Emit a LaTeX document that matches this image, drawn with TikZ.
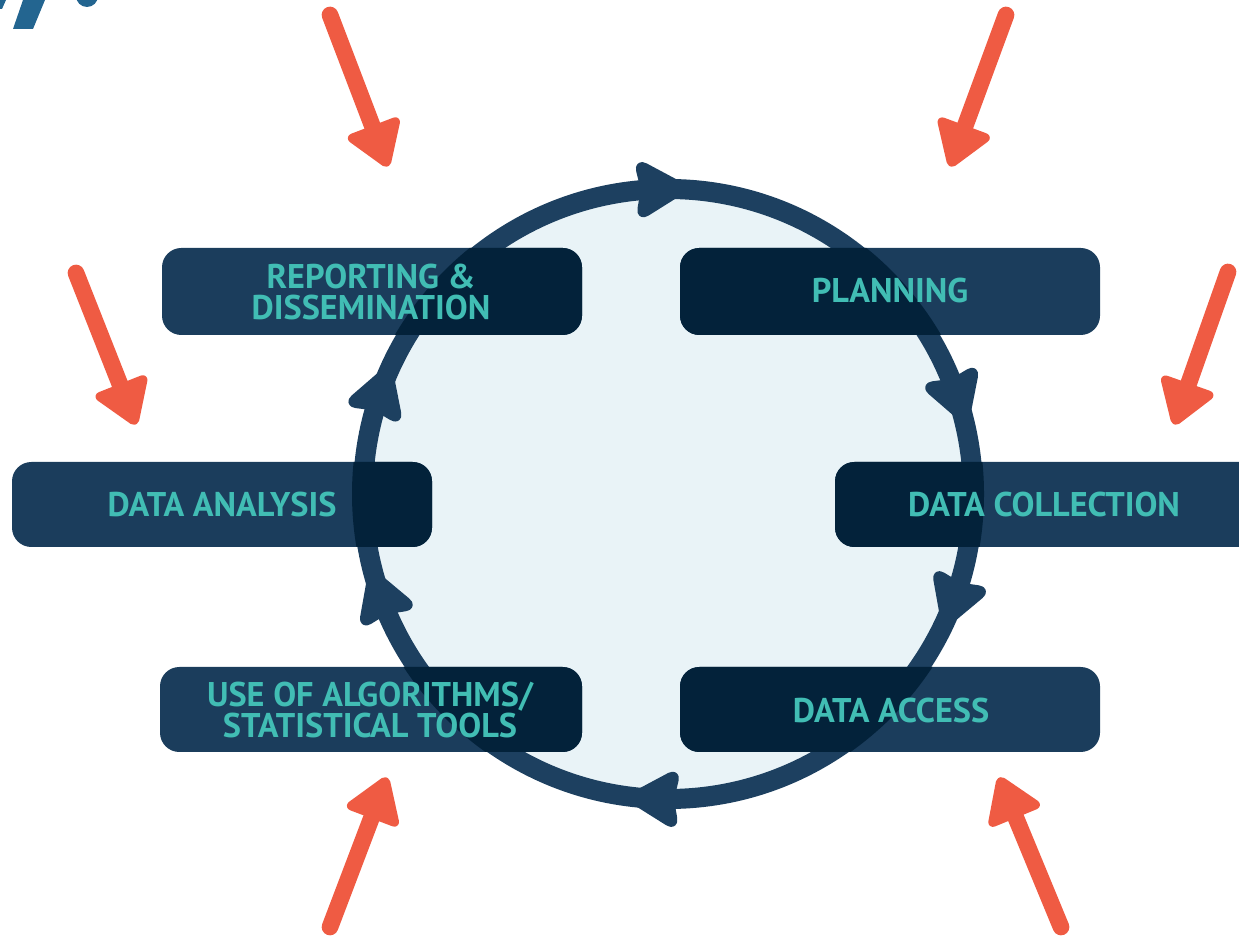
\documentclass[tikz,border=0pt]{standalone}
\usepackage{fontspec}
\newfontfamily\labfont{PT Sans}
\usetikzlibrary{calc}
\definecolor{boxc}{HTML}{1B3D5C}
\definecolor{boxdark}{HTML}{03223A}
\definecolor{ringc}{HTML}{1D4060}
\definecolor{fillc}{HTML}{E9F3F7}
\definecolor{textc}{HTML}{41BDB4}
\definecolor{redc}{HTML}{EF5B43}
\definecolor{headc}{HTML}{236590}
\tikzset{
  stagebox/.style={fill=boxc, rounded corners=11pt},
  stagedark/.style={fill=boxdark, rounded corners=11pt},
  stagetext/.style={text=textc, font=\labfont\bfseries\fontsize{19.5}{18}\selectfont, align=center, inner sep=0pt},
  redshaft/.style={draw=redc, line width=9.5pt, line cap=round},
  redhead/.style={fill=redc, draw=redc, line width=2.5pt, line join=round, rounded corners=3pt},
}
\begin{document}
\begin{tikzpicture}[x=0.02cm, y=0.02cm]
\useasboundingbox (0,0) rectangle (1239,939);
\clip (0,0) rectangle (1239,939);
% heading fragment
\fill[headc] (23,939) -- (45,939) -- (33,910) -- (13,910) -- cycle;
\fill[headc] (0,939) -- (6,939) -- (2,930) -- (0,930) -- cycle;
\fill[headc] (87,943) circle (11);
% circle
\coordinate (C) at (668,445);
\fill[fillc] (C) circle (305);
\draw[ringc, line width=11.4pt] (C) circle (305);
\foreach \a in {92,19,-20,-92,200,161}{
  \begin{scope}[shift={(668,445)}, rotate=\a]
    \fill[ringc, draw=ringc, line width=3pt, line join=round, rounded corners=6pt]
      (305,-30) -- (334,20) -- (305,14) -- (276,20) -- cycle;
  \end{scope}
}
% boxes
\fill[stagebox] (162,604) rectangle (582,691);
\fill[stagebox] (680,604) rectangle (1100,691);
\fill[stagebox] (12,392) rectangle (432,477);
\fill[stagebox] (835,392) rectangle (1262,477);
\fill[stagebox] (160,187) rectangle (582,272);
\fill[stagebox] (680,187) rectangle (1100,272);
\begin{scope}
  \clip (C) circle (316);
  \fill[stagedark] (162,604) rectangle (582,691);
  \fill[stagedark] (680,604) rectangle (1100,691);
  \fill[stagedark] (12,392) rectangle (432,477);
  \fill[stagedark] (835,392) rectangle (1262,477);
  \fill[stagedark] (160,187) rectangle (582,272);
  \fill[stagedark] (680,187) rectangle (1100,272);
\end{scope}
\node[stagetext] (rep) at (371,647) {REPORTING \&\\DISSEMINATION};
\node[stagetext] (plan) at (890,648) {PLANNING};
\node[stagetext] (ana) at (222,434) {DATA ANALYSIS};
\node[stagetext] (col) at (1044,434) {DATA COLLECTION};
\node[stagetext] (alg) at (370,229) {USE OF ALGORITHMS/\\STATISTICAL TOOLS};
\node[stagetext] (acc) at (891,228) {DATA ACCESS};
% red arrows
\coordinate (t1) at (330,924); \coordinate (p1) at (388,772);
\coordinate (t2) at (1006,924); \coordinate (p2) at (950,772);
\coordinate (t3) at (76,666); \coordinate (p3) at (136,514);
\coordinate (t4) at (1228,667); \coordinate (p4) at (1174,514);
\coordinate (t5) at (330,12); \coordinate (p5) at (387,162);
\coordinate (t6) at (1061,12); \coordinate (p6) at (999,162);
\foreach \i in {1,...,6}{
  \coordinate (b\i) at ($(p\i)!0.84cm!(t\i)$);
  \draw[redshaft] (t\i) -- (b\i);
  \path[redhead] (p\i) -- ($(b\i)!0.55cm!90:(p\i)$) -- ($(b\i)!0.55cm!-90:(p\i)$) -- cycle;
}
\end{tikzpicture}
\end{document}
